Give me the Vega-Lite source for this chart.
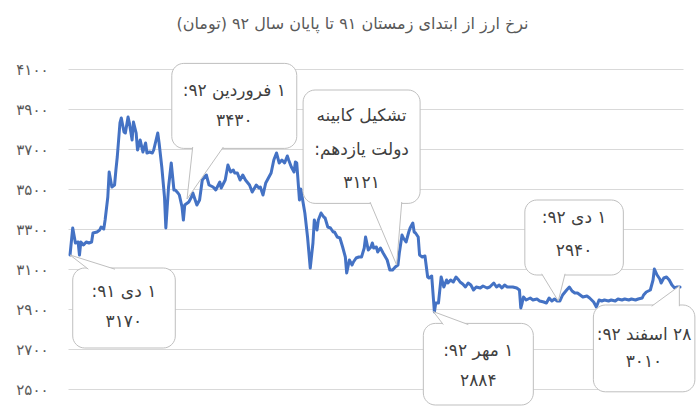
{
  "$schema": "https://vega.github.io/schema/vega-lite/v6.json",
  "width": 615,
  "height": 320,
  "autosize": {"type": "none"},
  "padding": {"left": 68, "top": 69, "right": 17, "bottom": 27},
  "background": "white",
  "title": {
    "text": "\u200fنرخ ارز از ابتدای زمستان ۹۱ تا پایان سال ۹۲ (تومان)\u200f",
    "anchor": "middle",
    "frame": "group",
    "dx": -23,
    "offset": 30,
    "font": "DejaVu Sans",
    "fontSize": 16,
    "fontWeight": "normal",
    "color": "#595959"
  },
  "config": {
    "view": {"stroke": null},
    "locale": {
      "number": {
        "decimal": ".",
        "thousands": "",
        "grouping": [3],
        "currency": ["", ""],
        "numerals": ["۰", "۱", "۲", "۳", "۴", "۵", "۶", "۷", "۸", "۹"]
      }
    }
  },
  "datasets": {
    "series": [
      {"d":0,"v":3170},{"d":2,"v":3305},{"d":4,"v":3230},{"d":6,"v":3235},{"d":7,"v":3170},{"d":8,"v":3235},{"d":10,"v":3220},{"d":12,"v":3235},{"d":14,"v":3230},{"d":16,"v":3235},{"d":17,"v":3280},{"d":20,"v":3285},{"d":22,"v":3295},{"d":23,"v":3310},{"d":25,"v":3300},{"d":26,"v":3345},{"d":28,"v":3460},{"d":29,"v":3585},{"d":31,"v":3510},{"d":33,"v":3520},{"d":34,"v":3595},{"d":35,"v":3660},{"d":37,"v":3830},{"d":38,"v":3855},{"d":40,"v":3785},{"d":41,"v":3780},{"d":43,"v":3860},{"d":44,"v":3830},{"d":46,"v":3745},{"d":47,"v":3835},{"d":49,"v":3780},{"d":50,"v":3695},{"d":52,"v":3745},{"d":54,"v":3685},{"d":56,"v":3730},{"d":57,"v":3680},{"d":59,"v":3685},{"d":61,"v":3680},{"d":62,"v":3695},{"d":65,"v":3780},{"d":66,"v":3730},{"d":68,"v":3610},{"d":70,"v":3460},{"d":71,"v":3305},{"d":73,"v":3510},{"d":75,"v":3630},{"d":77,"v":3495},{"d":78,"v":3495},{"d":80,"v":3480},{"d":81,"v":3470},{"d":83,"v":3410},{"d":84,"v":3345},{"d":85,"v":3420},{"d":88,"v":3435},{"d":90,"v":3460},{"d":91,"v":3480},{"d":94,"v":3420},{"d":96,"v":3445},{"d":98,"v":3545},{"d":101,"v":3570},{"d":103,"v":3520},{"d":106,"v":3510},{"d":108,"v":3495},{"d":111,"v":3535},{"d":112,"v":3505},{"d":115,"v":3545},{"d":117,"v":3620},{"d":119,"v":3585},{"d":121,"v":3595},{"d":122,"v":3580},{"d":124,"v":3580},{"d":126,"v":3545},{"d":128,"v":3570},{"d":130,"v":3545},{"d":133,"v":3520},{"d":135,"v":3485},{"d":138,"v":3520},{"d":140,"v":3505},{"d":141,"v":3510},{"d":143,"v":3470},{"d":145,"v":3530},{"d":147,"v":3555},{"d":149,"v":3580},{"d":151,"v":3645},{"d":153,"v":3680},{"d":155,"v":3630},{"d":157,"v":3645},{"d":159,"v":3630},{"d":161,"v":3665},{"d":162,"v":3645},{"d":164,"v":3610},{"d":166,"v":3585},{"d":167,"v":3635},{"d":168,"v":3630},{"d":170,"v":3445},{"d":171,"v":3500},{"d":172,"v":3460},{"d":174,"v":3380},{"d":176,"v":3260},{"d":178,"v":3105},{"d":180,"v":3230},{"d":181,"v":3345},{"d":183,"v":3295},{"d":184,"v":3345},{"d":186,"v":3380},{"d":188,"v":3360},{"d":189,"v":3355},{"d":191,"v":3310},{"d":193,"v":3305},{"d":195,"v":3285},{"d":196,"v":3285},{"d":198,"v":3260},{"d":200,"v":3255},{"d":202,"v":3210},{"d":204,"v":3160},{"d":205,"v":3080},{"d":207,"v":3145},{"d":209,"v":3120},{"d":210,"v":3135},{"d":212,"v":3155},{"d":214,"v":3160},{"d":216,"v":3160},{"d":218,"v":3205},{"d":219,"v":3260},{"d":221,"v":3195},{"d":223,"v":3210},{"d":224,"v":3230},{"d":225,"v":3205},{"d":227,"v":3210},{"d":228,"v":3185},{"d":230,"v":3205},{"d":232,"v":3180},{"d":235,"v":3145},{"d":237,"v":3095},{"d":239,"v":3095},{"d":241,"v":3110},{"d":243,"v":3120},{"d":244,"v":3180},{"d":246,"v":3270},{"d":247,"v":3255},{"d":249,"v":3235},{"d":251,"v":3285},{"d":252,"v":3305},{"d":254,"v":3330},{"d":255,"v":3285},{"d":256,"v":3280},{"d":258,"v":3260},{"d":259,"v":3170},{"d":261,"v":3160},{"d":263,"v":3165},{"d":265,"v":3060},{"d":266,"v":3055},{"d":268,"v":3065},{"d":270,"v":2885},{"d":271,"v":2930},{"d":273,"v":2930},{"d":275,"v":3060},{"d":277,"v":3010},{"d":279,"v":3045},{"d":280,"v":3030},{"d":282,"v":3045},{"d":284,"v":3035},{"d":286,"v":3060},{"d":288,"v":3045},{"d":289,"v":3035},{"d":291,"v":3025},{"d":293,"v":3010},{"d":295,"v":3030},{"d":297,"v":3020},{"d":299,"v":2995},{"d":301,"v":3010},{"d":304,"v":3005},{"d":306,"v":3015},{"d":309,"v":3005},{"d":311,"v":3010},{"d":314,"v":3030},{"d":316,"v":3010},{"d":318,"v":3020},{"d":320,"v":3005},{"d":322,"v":3020},{"d":324,"v":3010},{"d":326,"v":3010},{"d":328,"v":3010},{"d":331,"v":3005},{"d":333,"v":2995},{"d":334,"v":2905},{"d":335,"v":2930},{"d":336,"v":2960},{"d":338,"v":2945},{"d":341,"v":2955},{"d":343,"v":2945},{"d":346,"v":2950},{"d":348,"v":2940},{"d":351,"v":2935},{"d":353,"v":2930},{"d":355,"v":2955},{"d":357,"v":2940},{"d":359,"v":2950},{"d":361,"v":2940},{"d":363,"v":2940},{"d":365,"v":2970},{"d":368,"v":2995},{"d":370,"v":3010},{"d":372,"v":2990},{"d":374,"v":2980},{"d":376,"v":2980},{"d":378,"v":2970},{"d":380,"v":2960},{"d":383,"v":2965},{"d":385,"v":2955},{"d":388,"v":2935},{"d":390,"v":2910},{"d":392,"v":2945},{"d":394,"v":2940},{"d":396,"v":2945},{"d":399,"v":2940},{"d":401,"v":2945},{"d":404,"v":2940},{"d":406,"v":2950},{"d":409,"v":2945},{"d":411,"v":2950},{"d":414,"v":2945},{"d":416,"v":2950},{"d":419,"v":2945},{"d":421,"v":2950},{"d":424,"v":2955},{"d":425,"v":2970},{"d":427,"v":2985},{"d":430,"v":2995},{"d":432,"v":3045},{"d":433,"v":3100},{"d":435,"v":3070},{"d":437,"v":3050},{"d":438,"v":3030},{"d":440,"v":3055},{"d":442,"v":3060},{"d":444,"v":3045},{"d":446,"v":3020},{"d":448,"v":3005},{"d":450,"v":3010},{"d":452,"v":3010}
    ],
    "boxes": [
      {"id":1,"x0":2,"x1":78,"y0":3105,"y1":2705},
      {"id":2,"x0":75.4,"x1":168,"y0":4128,"y1":3703},
      {"id":3,"x0":172.7,"x1":259.4,"y0":3995,"y1":3428},
      {"id":4,"x0":261.8,"x1":343.3,"y0":2828,"y1":2420},
      {"id":5,"x0":337,"x1":410,"y0":3445,"y1":3070},
      {"id":6,"x0":387.8,"x1":463,"y0":2920,"y1":2486}
    ],
    "wedges": [
      {"id":1,"k":0,"d":13.6,"v":3099},{"id":1,"k":1,"d":0,"v":3170},{"id":1,"k":2,"d":33.3,"v":3099},
      {"id":2,"k":0,"d":90.9,"v":3710},{"id":2,"k":1,"d":86.7,"v":3450},{"id":2,"k":2,"d":113.6,"v":3710},
      {"id":3,"k":0,"d":222.3,"v":3435},{"id":3,"k":1,"d":242,"v":3120},{"id":3,"k":2,"d":245.8,"v":3435},
      {"id":4,"k":0,"d":276.6,"v":2822},{"id":4,"k":1,"d":269.2,"v":2887},{"id":4,"k":2,"d":295.1,"v":2822},
      {"id":5,"k":0,"d":349.5,"v":3076},{"id":5,"k":1,"d":361.8,"v":2940},{"id":5,"k":2,"d":366.8,"v":3076},
      {"id":6,"k":0,"d":431,"v":2914},{"id":6,"k":1,"d":451.5,"v":3015},{"id":6,"k":2,"d":451.5,"v":2914}
    ],
    "labels": [
      {"d":39.9,"v":2985,"t":"\u200f۱ دی ۹۱:\u200f"},
      {"d":39.9,"v":2835,"t":"۳۱۷۰"},
      {"d":121.7,"v":3990,"t":"\u200f۱ فروردین ۹۲:\u200f"},
      {"d":121.7,"v":3840,"t":"۳۴۳۰"},
      {"d":216,"v":3865,"t":"\u200fتشکیل کابینه\u200f"},
      {"d":216,"v":3695,"t":"\u200fدولت یازدهم:\u200f"},
      {"d":216,"v":3530,"t":"۳۱۲۱"},
      {"d":302.5,"v":2690,"t":"\u200f۱ مهر ۹۲:\u200f"},
      {"d":302.5,"v":2540,"t":"۲۸۸۴"},
      {"d":373.5,"v":3355,"t":"\u200f۱ دی ۹۲:\u200f"},
      {"d":373.5,"v":3190,"t":"۲۹۴۰"},
      {"d":425.3,"v":2770,"t":"\u200f۲۸ اسفند ۹۲:\u200f"},
      {"d":425.3,"v":2635,"t":"۳۰۱۰"}
    ]
  },
  "layer": [
    {
      "data": {"name": "series"},
      "mark": {"type": "line", "color": "#4472C4", "strokeWidth": 3, "strokeJoin": "round", "strokeCap": "round"},
      "encoding": {
        "x": {"field": "d", "type": "quantitative", "scale": {"domain": [-1.5, 454.2], "nice": false, "zero": false}, "axis": null},
        "y": {
          "field": "v", "type": "quantitative",
          "scale": {"domain": [2500, 4100], "nice": false, "zero": false},
          "axis": {
            "title": null,
            "values": [2500, 2700, 2900, 3100, 3300, 3500, 3700, 3900, 4100],
            "tickCount": 20,
            "format": "d",
            "ticks": false,
            "domain": false,
            "grid": true,
            "gridColor": "#d9d9d9",
            "gridWidth": 1,
            "labelOverlap": false,
            "labelFlush": false,
            "labelPadding": 20,
            "labelFont": "DejaVu Sans",
            "labelFontSize": 15,
            "labelColor": "#595959"
          }
        }
      }
    },
    {
      "data": {"name": "boxes"},
      "mark": {"type": "rect", "fill": "white", "stroke": "#bfbfbf", "strokeWidth": 1, "cornerRadius": 12},
      "encoding": {
        "x": {"field": "x0", "type": "quantitative"},
        "x2": {"field": "x1"},
        "y": {"field": "y0", "type": "quantitative"},
        "y2": {"field": "y1"}
      }
    },
    {
      "data": {"name": "wedges"},
      "mark": {"type": "line", "fill": "white", "stroke": "#bfbfbf", "strokeWidth": 1},
      "encoding": {
        "x": {"field": "d", "type": "quantitative"},
        "y": {"field": "v", "type": "quantitative"},
        "detail": {"field": "id"},
        "order": {"field": "k"}
      }
    },
    {
      "data": {"name": "labels"},
      "mark": {"type": "text", "font": "DejaVu Sans", "fontSize": 17, "fontWeight": "normal", "color": "#404040", "baseline": "middle", "align": "center"},
      "encoding": {
        "x": {"field": "d", "type": "quantitative"},
        "y": {"field": "v", "type": "quantitative"},
        "text": {"field": "t"}
      }
    }
  ]
}
